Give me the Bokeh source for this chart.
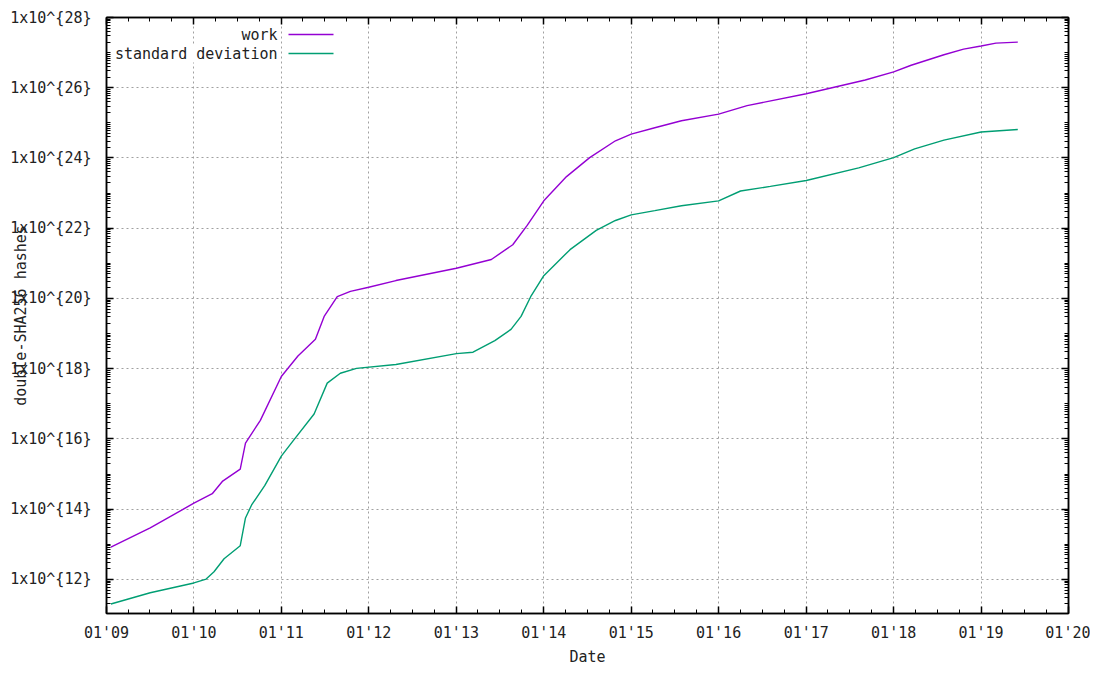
import numpy as np
import pandas as pd
from bokeh.plotting import figure
from bokeh.models import (FixedTicker, DatetimeTickFormatter, CustomJSTickFormatter,
                          DatetimeAxis, LogAxis, Label, BoxAnnotation, Range1d,
                          CustomLabelingPolicy)
from bokeh.embed import file_html
from bokeh.resources import INLINE

# ---------------- data ----------------
series_names = ["work", "standard deviation"]
series_colors = ["#9400d3", "#009e73"]

work_year = [2009.05, 2009.5, 2010.0, 2010.21, 2010.325, 2010.53, 2010.59, 2010.76,
             2011.0, 2011.19, 2011.39, 2011.49, 2011.64, 2011.79, 2012.0, 2012.31,
             2013.0, 2013.4, 2013.645, 2013.81, 2014.0, 2014.26, 2014.525, 2014.82,
             2015.0, 2015.27, 2015.575, 2016.0, 2016.325, 2017.0, 2017.675, 2018.0,
             2018.2, 2018.575, 2018.8, 2019.0, 2019.17, 2019.42]
work_log10 = [12.92, 13.47, 14.17, 14.44, 14.79, 15.14, 15.88, 16.53,
              17.78, 18.36, 18.84, 19.49, 20.05, 20.20, 20.32, 20.51,
              20.86, 21.11, 21.53, 22.08, 22.78, 23.47, 24.01, 24.49,
              24.68, 24.86, 25.06, 25.25, 25.49, 25.83, 26.22, 26.45,
              26.64, 26.94, 27.10, 27.19, 27.27, 27.30]

sd_year = [2009.05, 2009.5, 2010.0, 2010.14, 2010.23, 2010.345, 2010.53, 2010.59,
           2010.66, 2010.81, 2011.0, 2011.13, 2011.375, 2011.525, 2011.675, 2011.86,
           2012.31, 2013.0, 2013.19, 2013.44, 2013.625, 2013.74, 2013.85, 2014.0,
           2014.3, 2014.6, 2014.82, 2015.0, 2015.27, 2015.575, 2016.0, 2016.25,
           2016.59, 2017.0, 2017.6, 2018.0, 2018.24, 2018.575, 2019.0, 2019.42]
sd_log10 = [11.30, 11.62, 11.90, 12.01, 12.22, 12.59, 12.96, 13.75,
            14.12, 14.67, 15.51, 15.93, 16.71, 17.59, 17.87, 18.01,
            18.12, 18.43, 18.47, 18.80, 19.12, 19.49, 20.05, 20.65,
            21.39, 21.94, 22.22, 22.38, 22.50, 22.64, 22.78, 23.06,
            23.19, 23.36, 23.72, 24.01, 24.26, 24.51, 24.74, 24.81]

x_tick_years = list(range(2009, 2021))
y_tick_exps = list(range(12, 29, 2))
x_label = "Date"
y_label = "double-SHA256 hashes"

FONT = "DejaVu Sans Mono"
FS = "15px"
TXT = "#222222"

W, H = 1090, 669
B_LEFT, B_TOP, B_RIGHT, B_BOTTOM = 106, 17, 22, 56
FRAME_H = H - B_TOP - B_BOTTOM


def year_to_dt(y):
    yr = int(np.floor(y))
    frac = y - yr
    start = pd.Timestamp(yr, 1, 1)
    end = pd.Timestamp(yr + 1, 1, 1)
    return start + (end - start) * frac


def ms(ts):
    return ts.value / 1e6


work_x = [year_to_dt(v) for v in work_year]
work_y = [10.0 ** v for v in work_log10]
sd_x = [year_to_dt(v) for v in sd_year]
sd_y = [10.0 ** v for v in sd_log10]

p = figure(width=W, height=H, x_axis_type="datetime", y_axis_type="log",
           x_range=Range1d(year_to_dt(2009), year_to_dt(2020)),
           y_range=Range1d(10.0 ** 11.03, 1e28),
           output_backend="svg", toolbar_location=None,
           min_border_left=B_LEFT, min_border_right=B_RIGHT,
           min_border_top=B_TOP, min_border_bottom=B_BOTTOM)
p.background_fill_color = "white"
p.border_fill_color = "white"
p.outline_line_color = "black"
p.outline_line_width = 1.5

major_x = [ms(pd.Timestamp(y, 1, 1)) for y in x_tick_years]
minor_x = [ms(pd.Timestamp(y, m, 1)) for y in x_tick_years[:-1] for m in (4, 7, 10)]
xticker = FixedTicker(ticks=major_x, minor_ticks=minor_x)
major_y = [10.0 ** e for e in y_tick_exps]
minor_y = [k * 10.0 ** n for n in range(11, 28) for k in range(1, 10)]
yticker = FixedTicker(ticks=major_y, minor_ticks=minor_y)

fmt = "%m'%y"
xfmt = DatetimeTickFormatter(years=fmt, months=fmt, days=fmt, hours=fmt, minutes=fmt,
                             seconds=fmt, milliseconds=fmt, microseconds=fmt)
yfmt = CustomJSTickFormatter(code="return '1x10^{' + Math.round(Math.log10(tick)) + '}';")
no_labels = CustomLabelingPolicy(
    code="for (let i = 0; i < indices.size; i++) { indices.unset(i) } return indices")


def style_axis(ax, labels=True):
    ax.axis_line_color = "black"
    ax.axis_line_width = 1.5
    ax.major_tick_in = 7
    ax.major_tick_out = 0
    ax.minor_tick_in = 4
    ax.minor_tick_out = 0
    ax.major_tick_line_color = "black"
    ax.minor_tick_line_color = "black"
    ax.major_tick_line_width = 1.5
    ax.minor_tick_line_width = 1
    if labels:
        ax.major_label_text_font = FONT
        ax.major_label_text_font_size = FS
        ax.major_label_text_color = TXT
    else:
        ax.major_label_policy = no_labels
        ax.major_label_text_font_size = "1px"
        ax.major_label_standoff = 0


p.xaxis.ticker = xticker
p.xaxis.formatter = xfmt
p.yaxis.ticker = yticker
p.yaxis.formatter = yfmt
style_axis(p.xaxis[0])
style_axis(p.yaxis[0])
p.xaxis.major_label_standoff = 10
p.yaxis.major_label_standoff = 15

p.xaxis.axis_label = x_label
p.xaxis.axis_label_standoff = 3
p.yaxis.axis_label = y_label
p.yaxis.axis_label_standoff = -23
for ax in (p.xaxis[0], p.yaxis[0]):
    ax.axis_label_text_font = FONT
    ax.axis_label_text_font_size = FS
    ax.axis_label_text_font_style = "normal"
    ax.axis_label_text_color = TXT

top_ax = DatetimeAxis(ticker=xticker, formatter=xfmt)
style_axis(top_ax, labels=False)
p.add_layout(top_ax, "above")
right_ax = LogAxis(ticker=yticker, formatter=yfmt)
style_axis(right_ax, labels=False)
p.add_layout(right_ax, "right")

for g, t in ((p.xgrid[0], xticker), (p.ygrid[0], yticker)):
    g.ticker = t
    g.grid_line_color = "#a0a0a0"
    g.grid_line_dash = "2 3"
    g.grid_line_width = 1

p.line(work_x, work_y, line_color=series_colors[0], line_width=1.4)
p.line(sd_x, sd_y, line_color=series_colors[1], line_width=1.4)

# gnuplot-style key: right-aligned text, sample line to the right
key_y = [FRAME_H - 17, FRAME_H - 36]
for name, col, ky in zip(series_names, series_colors, key_y):
    p.add_layout(Label(x=171, y=ky, x_units="screen", y_units="screen", text=name,
                       text_align="right", text_baseline="middle",
                       text_font=FONT, text_font_size=FS, text_color=TXT,
                       background_fill_color="white", background_fill_alpha=1.0))
    p.add_layout(BoxAnnotation(left=182, right=227, bottom=ky - 0.7, top=ky + 0.7,
                               left_units="screen", right_units="screen",
                               bottom_units="screen", top_units="screen",
                               fill_color=col, fill_alpha=1.0, line_alpha=0))

open("out.html", "w").write(file_html(p, INLINE))
